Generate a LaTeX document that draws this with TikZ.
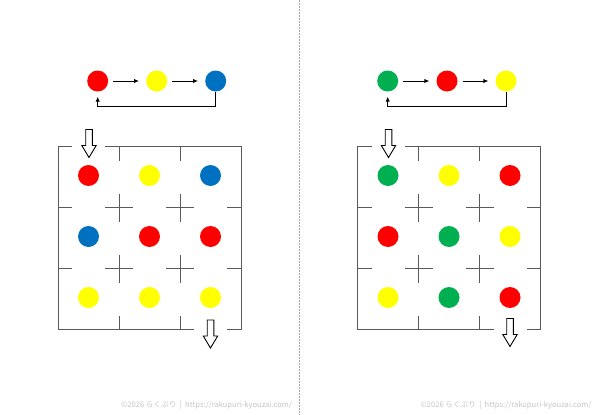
\documentclass[tikz,border=0pt]{standalone}
\usepackage{fontspec}
\newfontfamily\jpfont{Noto Sans CJK JP}
\usetikzlibrary{arrows.meta}

\definecolor{ballred}{HTML}{FF0000}
\definecolor{ballyellow}{HTML}{FFFF00}
\definecolor{ballblue}{HTML}{0070C0}
\definecolor{ballgreen}{HTML}{00B050}
\definecolor{gridgray}{HTML}{5A5A5A}
\definecolor{footgray}{HTML}{C4C4C4}

\tikzset{
  ball/.style={circle, inner sep=0pt, minimum size=21pt},
  seqarrow/.style={-{Latex[length=5pt,width=4.5pt]}, line width=0.95pt, shorten <=5pt, shorten >=7pt},
  gridline/.style={gridgray, line width=0.9pt},
  footer/.style={text=footgray, font=\jpfont\fontsize{7.6}{9}\selectfont},
  pics/blockarrow/.style={code={
    \draw[line width=0.9pt, fill=white] (-3.3,0) -- (3.3,0) -- (3.3,16) -- (7.2,16)
      -- (0,28) -- (-7.2,16) -- (-3.3,16) -- cycle;
  }}
}

\begin{document}
\begin{tikzpicture}[x=1pt, y=-1pt]
    \useasboundingbox (0,0) rectangle (600,415);

    % Divider
    \draw[gray!70, line width=0.8pt, dash pattern=on 1.5pt off 1.5pt] (299.5,0) -- (299.5,415);

    % Left sequence
    \node[ball, fill=ballred] (l1) at (97.7,81) {};
    \node[ball, fill=ballyellow] (l2) at (156.7,81) {};
    \node[ball, fill=ballblue] (l3) at (215.7,81) {};
    \draw[seqarrow] (l1) -- (l2);
    \draw[seqarrow] (l2) -- (l3);
    \draw[seqarrow, shorten <=0pt, shorten >=5pt] (l3.south) -- ++(0,15) -| (l1.south);

    % Right sequence
    \node[ball, fill=ballgreen] (r1) at (387.7,81) {};
    \node[ball, fill=ballred] (r2) at (447,81) {};
    \node[ball, fill=ballyellow] (r3) at (506,81) {};
    \draw[seqarrow] (r1) -- (r2);
    \draw[seqarrow] (r2) -- (r3);
    \draw[seqarrow, shorten <=0pt, shorten >=5pt] (r3.south) -- ++(0,15) -| (r1.south);

    % Left grid
    \begin{scope}[shift={(58,146.5)}]
      \draw[gridline] (14,0) -- (0,0) -- (0,183) -- (136,183);
      \draw[gridline] (47,0) -- (183,0) -- (183,183) -- (169,183);
      \foreach \t in {61,122} {
        \draw[gridline] (\t,0) -- (\t,14) (\t,183) -- (\t,169);
        \draw[gridline] (0,\t) -- (14,\t) (183,\t) -- (169,\t);
        \foreach \s in {61,122}
          \draw[gridline] (\t-14,\s) -- (\t+14,\s) (\t,\s-14) -- (\t,\s+14);
      }
      \foreach \c [count=\i from 0] in {ballred,ballyellow,ballblue,
                                        ballblue,ballred,ballred,
                                        ballyellow,ballyellow,ballyellow}
        \node[ball, fill=\c] (L-\i) at ({30.5+61*mod(\i,3)}, {29+61*int(\i/3)}) {};
      \pic at (31,-17) {blockarrow};
      \pic at (152.5,173.5) {blockarrow};
    \end{scope}

    % Right grid
    \begin{scope}[shift={(357.5,146.5)}]
      \draw[gridline] (14,0) -- (0,0) -- (0,183) -- (136,183);
      \draw[gridline] (47,0) -- (183,0) -- (183,183) -- (169,183);
      \foreach \t in {61,122} {
        \draw[gridline] (\t,0) -- (\t,14) (\t,183) -- (\t,169);
        \draw[gridline] (0,\t) -- (14,\t) (183,\t) -- (169,\t);
        \foreach \s in {61,122}
          \draw[gridline] (\t-14,\s) -- (\t+14,\s) (\t,\s-14) -- (\t,\s+14);
      }
      \foreach \c [count=\i from 0] in {ballgreen,ballyellow,ballred,
                                        ballred,ballgreen,ballyellow,
                                        ballyellow,ballgreen,ballred}
        \node[ball, fill=\c] (R-\i) at ({30.5+61*mod(\i,3)}, {29+61*int(\i/3)}) {};
      \pic at (31,-17) {blockarrow};
      \pic at (152.5,172) {blockarrow};
    \end{scope}

    % Footer
    \node[footer] (footL) at (206.5,405.5) {©2026 らくぷり\ \ |\ \ https://rakupuri-kyouzai.com/};
    \node[footer] (footR) at (506,405.5) {©2026 らくぷり\ \ |\ \ https://rakupuri-kyouzai.com/};
\end{tikzpicture}
\end{document}
